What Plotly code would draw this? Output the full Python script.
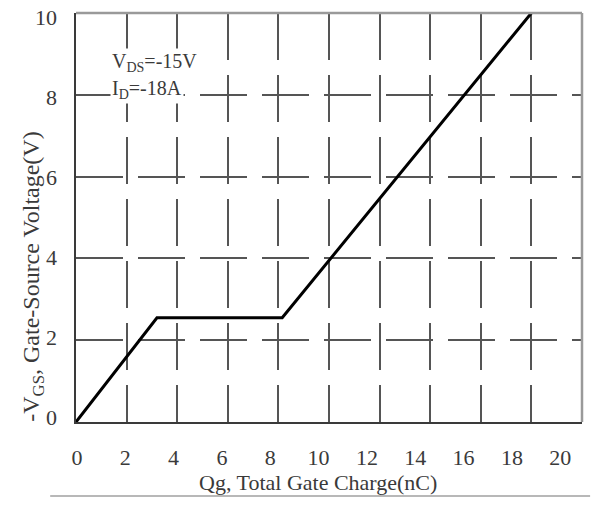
import plotly.graph_objects as go

# Data
qg = [0, 3.2, 8.15, 18]          # Total gate charge (nC)
vgs = [0, 2.55, 2.55, 10]        # -VGS (V)

x_ticks = [0, 2, 4, 6, 8, 10, 12, 14, 16, 18, 20]
y_ticks = [0, 2, 4, 6, 8, 10]
x_title = "Qg, Total Gate Charge(nC)"
y_title = "-V<sub>GS</sub>, Gate-Source Voltage(V)"
cond_lines = ["V<sub>DS</sub>=-15V", "I<sub>D</sub>=-18A"]

font_family = "Liberation Serif"
txt_color = "#3a3a3a"

fig = go.Figure()
fig.add_trace(go.Scatter(
    x=qg, y=vgs, mode="lines",
    line=dict(color="black", width=3),
    showlegend=False, hoverinfo="skip",
))

grid = dict(
    showgrid=True, gridcolor="#555555", gridwidth=1.5, griddash="47px,15px",
    zeroline=False, showline=True, linecolor="#3a3a3a", linewidth=2,
    ticks="", showticklabels=False, automargin=False,
)
fig.update_xaxes(range=[0, 20], tickvals=x_ticks, **grid)
fig.update_yaxes(range=[0, 10], tickvals=y_ticks, **grid)

# label-only overlay axes (the printed labels are slightly offset from the grid)
lab_font = dict(family=font_family, size=22, color=txt_color)
fig.update_layout(
    xaxis2=dict(overlaying="x", side="bottom", anchor="y", range=[-0.04, 20.9],
                tickvals=x_ticks, ticktext=[str(v) for v in x_ticks],
                showgrid=False, zeroline=False, showline=False, ticks="",
                tickfont=lab_font, ticklabelstandoff=20, automargin=False,
                ticklabeloverflow="allow"),
    yaxis2=dict(overlaying="y", side="left", anchor="x", range=[-0.125, 10.11],
                tickvals=y_ticks, ticktext=[str(v) for v in y_ticks],
                showgrid=False, zeroline=False, showline=False, ticks="",
                tickfont=lab_font, ticklabelstandoff=18, automargin=False,
                ticklabeloverflow="allow"),
)
fig.add_trace(go.Scatter(x=[None], y=[None], xaxis="x2", yaxis="y2",
                         showlegend=False, hoverinfo="skip"))

# lighter top and right frame
fig.add_shape(type="line", xref="x domain", yref="y domain", x0=0, x1=1, y0=1, y1=1,
              line=dict(color="#9a9a9a", width=2.5), layer="above")
fig.add_shape(type="line", xref="x domain", yref="y domain", x0=1, x1=1, y0=0, y1=1,
              line=dict(color="#9a9a9a", width=2.5), layer="above")
# thin rule under the x title
fig.add_shape(type="line", xref="paper", yref="paper", x0=-0.051, x1=1.016, y0=-0.181, y1=-0.181,
              line=dict(color="#a0a0a0", width=1.5))

# axis titles
fig.add_annotation(x=0.479, y=-0.148, xref="paper", yref="paper", showarrow=False,
                   xanchor="center", yanchor="middle", text=x_title,
                   font=dict(family=font_family, size=22, color=txt_color))
fig.add_annotation(x=-0.085, y=0.355, xref="paper", yref="paper", showarrow=False,
                   xanchor="center", yanchor="middle", textangle=-90, text=y_title,
                   font=dict(family=font_family, size=24, color=txt_color))

# test conditions
fig.add_annotation(x=1.33, y=8.8, xref="x", yref="y", xanchor="left", yanchor="middle",
                   showarrow=False, text=cond_lines[0], bgcolor="white", borderpad=1,
                   font=dict(family=font_family, size=20, color=txt_color))
fig.add_annotation(x=1.33, y=8.12, xref="x", yref="y", xanchor="left", yanchor="middle",
                   showarrow=False, text=cond_lines[1], bgcolor="white", borderpad=1,
                   font=dict(family=font_family, size=20, color=txt_color))

fig.update_layout(
    width=603, height=506,
    margin=dict(l=76, r=21, t=13, b=84),
    paper_bgcolor="white", plot_bgcolor="white",
)

# remove the browser's default 8px body margin so the figure fills the window
fig.write_html("out.html", config={"displayModeBar": False},
               post_script="document.body.style.margin='0';")
